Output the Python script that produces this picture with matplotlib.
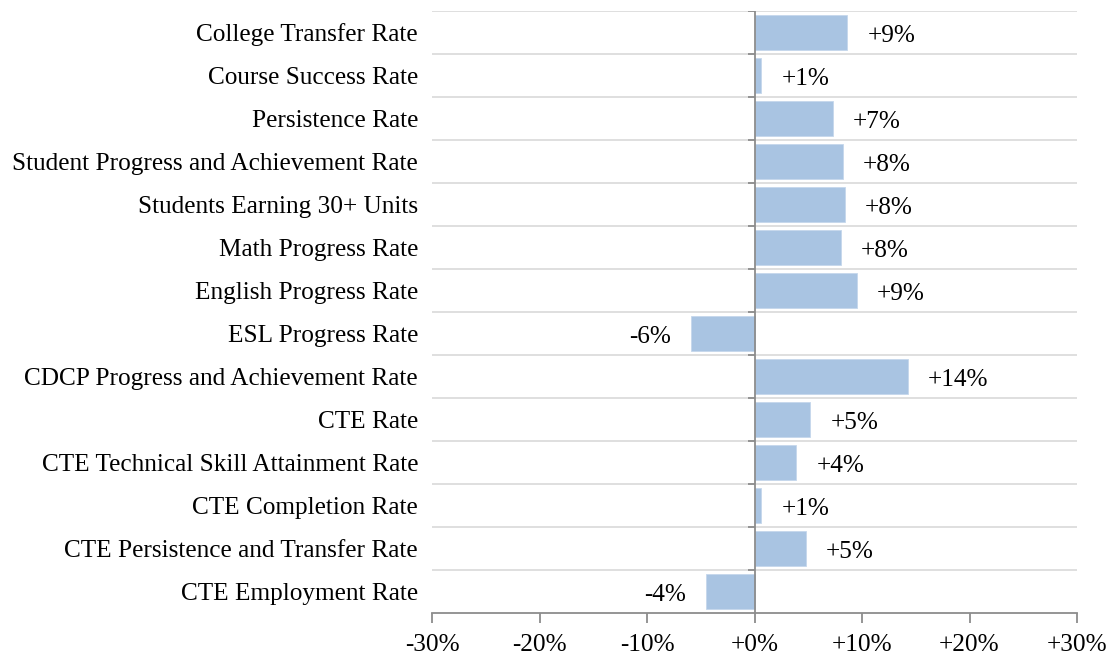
import matplotlib.pyplot as plt
import numpy as np
from matplotlib.markers import TICKLEFT
from matplotlib.ticker import FuncFormatter

categories = [
    "College Transfer Rate",
    "Course Success Rate",
    "Persistence Rate",
    "Student Progress and Achievement Rate",
    "Students Earning 30+ Units",
    "Math Progress Rate",
    "English Progress Rate",
    "ESL Progress Rate",
    "CDCP Progress and Achievement Rate",
    "CTE Rate",
    "CTE Technical Skill Attainment Rate",
    "CTE Completion Rate",
    "CTE Persistence and Transfer Rate",
    "CTE Employment Rate",
]
values = [8.65, 0.65, 7.3, 8.2, 8.4, 8.0, 9.5, -5.9, 14.3, 5.2, 3.9, 0.65, 4.8, -4.5]
labels = ["+9%", "+1%", "+7%", "+8%", "+8%", "+8%", "+9%", "-6%",
          "+14%", "+5%", "+4%", "+1%", "+5%", "-4%"]
xticks = [-30, -20, -10, 0, 10, 20, 30]

plt.rcParams['font.family'] = ['Liberation Serif', 'DejaVu Serif']
fs = 18.2

fig = plt.figure(figsize=(11.09, 6.58), dpi=100)
ax = fig.add_axes([432 / 1109, 45 / 658, 645 / 1109, 602 / 658])

n = len(categories)
y = np.arange(n)
ax.barh(y, values, height=0.8, color='#a9c4e2', edgecolor='#c5d7ec', linewidth=0.6, zorder=2)

# gridlines between categories
bounds = np.arange(n + 1) - 0.5
for b in bounds[:-1]:
    ax.axhline(b, color='#d9d9d9', lw=1.2, zorder=1)

# zero line with little ticks at category boundaries
ax.axvline(0, color='#8c8c8c', lw=1.3, zorder=3)
ax.plot(np.zeros(n), bounds[:-1], ls='none', marker=TICKLEFT, ms=5,
        mew=1.3, color='#8c8c8c', zorder=3)

# value labels
for yi, v, lab in zip(y, values, labels):
    if v >= 0:
        ax.annotate(lab, (v, yi), xytext=(20, -3), textcoords='offset pixels',
                    ha='left', va='center', fontsize=fs)
    else:
        ax.annotate(lab, (v, yi), xytext=(-20, -3), textcoords='offset pixels',
                    ha='right', va='center', fontsize=fs)

ax.set_xlim(-30, 30)
ax.set_ylim(n - 0.5, -0.5)
ax.set_xticks(xticks)
ax.xaxis.set_major_formatter(FuncFormatter(lambda x, p: f"{x:+.0f}%" if x != 0 else "+0%"))
ax.set_yticks(y)
ax.set_yticklabels(categories)
for t in ax.get_yticklabels():
    t.set_va('center_baseline')
ax.tick_params(axis='y', length=0, pad=10, labelsize=fs)
ax.tick_params(axis='x', length=7, width=1.3, color='#8c8c8c', pad=8, labelsize=fs)

for s in ['top', 'right', 'left']:
    ax.spines[s].set_visible(False)
ax.spines['bottom'].set_color('#8c8c8c')
ax.spines['bottom'].set_linewidth(1.3)

fig.savefig('out.png', dpi=100)
